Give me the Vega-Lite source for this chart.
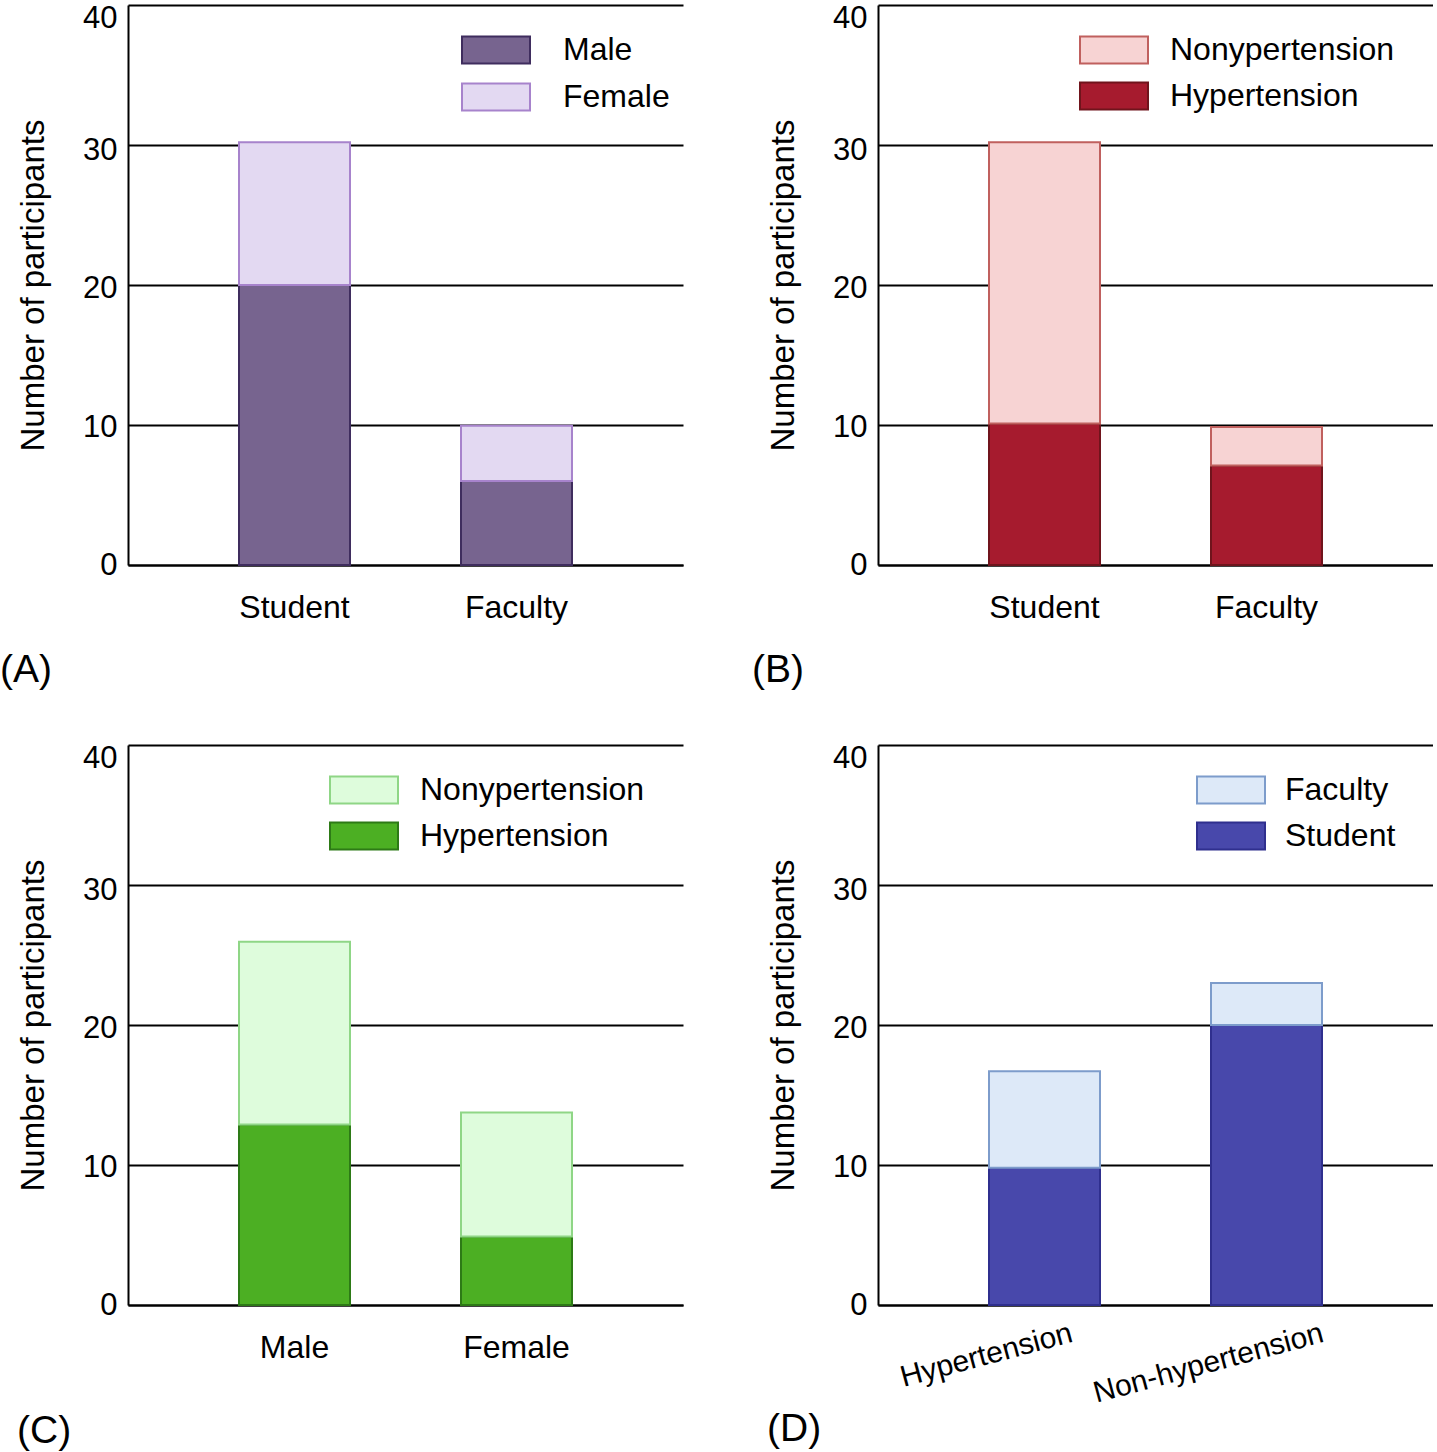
{
  "$schema": "https://vega.github.io/schema/vega-lite/v6.json",
  "autosize": {"type": "pad"},
  "padding": {"left": 0, "top": 2, "right": 0, "bottom": 0},
  "background": "white",
  "columns": 2,
  "bounds": "flush",
  "spacing": {"row": 180, "column": 195},
  "resolve": {"scale": {"fill": "independent", "stroke": "independent"}, "legend": {"fill": "independent", "stroke": "independent"}},
  "config": {
    "font": "Liberation Sans",
    "view": {"stroke": null},
    "axis": {"labelColor": "black", "titleColor": "black", "domainColor": "black", "domainWidth": 2, "ticks": false, "titleFontWeight": "normal", "labelFont": "Liberation Sans", "titleFont": "Liberation Sans", "labelLimit": 500},
    "legend": {"labelFontSize": 32, "labelColor": "black", "labelFont": "Liberation Sans", "labelLimit": 500, "symbolType": "M-2,-0.8L2,-0.8L2,0.8L-2,0.8Z", "symbolSize": 1156, "symbolStrokeWidth": 2, "symbolOpacity": 1, "padding": 0},
    "title": {"fontSize": 39, "fontWeight": "normal", "color": "black", "anchor": "start", "frame": "group", "orient": "bottom", "font": "Liberation Sans"},
    "bar": {"strokeWidth": 2}
  },
  "concat": [
    {
      "width": 555, "height": 560,
      "title": {"text": "(A)", "dx": -128, "offset": 28},
      "data": {"values": [
        {"group": "Student", "sex": "Male", "count": 20},
        {"group": "Student", "sex": "Female", "count": 10.2},
        {"group": "Faculty", "sex": "Male", "count": 6},
        {"group": "Faculty", "sex": "Female", "count": 3.95}
      ]},
      "mark": {"type": "bar"},
      "encoding": {
        "x": {"field": "group", "type": "nominal", "sort": ["Student", "Faculty"], "scale": {"paddingInner": 0.5, "paddingOuter": 0.5},
              "axis": {"title": null, "labelAngle": 0, "labelFontSize": 32, "labelPadding": 27, "grid": false}},
        "y": {"field": "count", "type": "quantitative", "stack": "zero", "scale": {"domain": [0, 40]},
              "axis": {"values": [0, 10, 20, 30, 40], "title": "Number of participants", "titleFontSize": 33, "titlePadding": 32, "labelFontSize": 31, "labelPadding": 11, "grid": true, "gridColor": "black", "gridWidth": 2,
                       "labelBaseline": {"condition": {"test": "datum.value === 40", "value": "top"}, "value": "middle"},
                       "labelOffset": {"condition": [{"test": "datum.value === 40", "value": -2}, {"test": "datum.value === 30", "value": 5}, {"test": "datum.value === 20", "value": 3}, {"test": "datum.value === 10", "value": 2}], "value": 0}}},
        "fill": {"field": "sex", "type": "nominal", "scale": {"domain": ["Male", "Female"], "range": ["#77648f", "#e3d9f2"]},
                 "legend": {"title": null, "orient": "none", "legendX": 350, "legendY": 27, "labelOffset": 49, "rowPadding": 11}},
        "stroke": {"field": "sex", "type": "nominal", "scale": {"domain": ["Male", "Female"], "range": ["#3f2d5e", "#a783cc"]},
                 "legend": {"title": null, "orient": "none", "legendX": 350, "legendY": 27, "labelOffset": 49, "rowPadding": 11}},
        "order": {"field": "sex", "sort": "descending"}
      }
    },
    {
      "width": 555, "height": 560,
      "title": {"text": "(B)", "dx": -126, "offset": 28},
      "data": {"values": [
        {"group": "Student", "status": "Hypertension", "count": 10.1},
        {"group": "Student", "status": "Nonypertension", "count": 20.1},
        {"group": "Faculty", "status": "Hypertension", "count": 7.1},
        {"group": "Faculty", "status": "Nonypertension", "count": 2.75}
      ]},
      "mark": {"type": "bar"},
      "encoding": {
        "x": {"field": "group", "type": "nominal", "sort": ["Student", "Faculty"], "scale": {"paddingInner": 0.5, "paddingOuter": 0.5},
              "axis": {"title": null, "labelAngle": 0, "labelFontSize": 32, "labelPadding": 27, "grid": false}},
        "y": {"field": "count", "type": "quantitative", "stack": "zero", "scale": {"domain": [0, 40]},
              "axis": {"values": [0, 10, 20, 30, 40], "title": "Number of participants", "titleFontSize": 33, "titlePadding": 32, "labelFontSize": 31, "labelPadding": 11, "grid": true, "gridColor": "black", "gridWidth": 2,
                       "labelBaseline": {"condition": {"test": "datum.value === 40", "value": "top"}, "value": "middle"},
                       "labelOffset": {"condition": [{"test": "datum.value === 40", "value": -2}, {"test": "datum.value === 30", "value": 5}, {"test": "datum.value === 20", "value": 3}, {"test": "datum.value === 10", "value": 2}], "value": 0}}},
        "fill": {"field": "status", "type": "nominal", "scale": {"domain": ["Nonypertension", "Hypertension"], "range": ["#f7d3d3", "#a61b2e"]},
                 "legend": {"title": null, "orient": "none", "legendX": 218, "legendY": 27, "labelOffset": 38, "rowPadding": 10}},
        "stroke": {"field": "status", "type": "nominal", "scale": {"domain": ["Nonypertension", "Hypertension"], "range": ["#c0605e", "#70141c"]},
                 "legend": {"title": null, "orient": "none", "legendX": 218, "legendY": 27, "labelOffset": 38, "rowPadding": 10}},
        "order": {"field": "status", "sort": "ascending"}
      }
    },
    {
      "width": 555, "height": 560,
      "title": {"text": "(C)", "dx": -111, "offset": 49},
      "data": {"values": [
        {"group": "Male", "status": "Hypertension", "count": 12.9},
        {"group": "Male", "status": "Nonypertension", "count": 13.05},
        {"group": "Female", "status": "Hypertension", "count": 4.9},
        {"group": "Female", "status": "Nonypertension", "count": 8.85}
      ]},
      "mark": {"type": "bar"},
      "encoding": {
        "x": {"field": "group", "type": "nominal", "sort": ["Male", "Female"], "scale": {"paddingInner": 0.5, "paddingOuter": 0.5},
              "axis": {"title": null, "labelAngle": 0, "labelFontSize": 32, "labelPadding": 27, "grid": false}},
        "y": {"field": "count", "type": "quantitative", "stack": "zero", "scale": {"domain": [0, 40]},
              "axis": {"values": [0, 10, 20, 30, 40], "title": "Number of participants", "titleFontSize": 33, "titlePadding": 32, "labelFontSize": 31, "labelPadding": 11, "grid": true, "gridColor": "black", "gridWidth": 2,
                       "labelBaseline": {"condition": {"test": "datum.value === 40", "value": "top"}, "value": "middle"},
                       "labelOffset": {"condition": [{"test": "datum.value === 40", "value": -2}, {"test": "datum.value === 30", "value": 5}, {"test": "datum.value === 20", "value": 3}, {"test": "datum.value === 10", "value": 2}], "value": 0}}},
        "fill": {"field": "status", "type": "nominal", "scale": {"domain": ["Nonypertension", "Hypertension"], "range": ["#defcdc", "#4caf23"]},
                 "legend": {"title": null, "orient": "none", "legendX": 218, "legendY": 27, "labelOffset": 38, "rowPadding": 10}},
        "stroke": {"field": "status", "type": "nominal", "scale": {"domain": ["Nonypertension", "Hypertension"], "range": ["#8fd686", "#2d7a16"]},
                 "legend": {"title": null, "orient": "none", "legendX": 218, "legendY": 27, "labelOffset": 38, "rowPadding": 10}},
        "order": {"field": "status", "sort": "ascending"}
      }
    },
    {
      "width": 555, "height": 560,
      "title": {"text": "(D)", "dx": -111, "offset": 2},
      "data": {"values": [
        {"group": "Hypertension", "role": "Student", "count": 9.8},
        {"group": "Hypertension", "role": "Faculty", "count": 6.9},
        {"group": "Non-hypertension", "role": "Student", "count": 20},
        {"group": "Non-hypertension", "role": "Faculty", "count": 3}
      ]},
      "mark": {"type": "bar"},
      "encoding": {
        "x": {"field": "group", "type": "nominal", "sort": ["Hypertension", "Non-hypertension"], "scale": {"paddingInner": 0.5, "paddingOuter": 0.5},
              "axis": {"title": null, "labelAngle": -15, "labelAlign": "center", "labelBaseline": "middle", "labelFontSize": 30,
                       "labelPadding": {"condition": {"test": "datum.value === 'Non-hypertension'", "value": 58}, "value": 50},
                       "labelOffset": -58, "grid": false}},
        "y": {"field": "count", "type": "quantitative", "stack": "zero", "scale": {"domain": [0, 40]},
              "axis": {"values": [0, 10, 20, 30, 40], "title": "Number of participants", "titleFontSize": 33, "titlePadding": 32, "labelFontSize": 31, "labelPadding": 11, "grid": true, "gridColor": "black", "gridWidth": 2,
                       "labelBaseline": {"condition": {"test": "datum.value === 40", "value": "top"}, "value": "middle"},
                       "labelOffset": {"condition": [{"test": "datum.value === 40", "value": -2}, {"test": "datum.value === 30", "value": 5}, {"test": "datum.value === 20", "value": 3}, {"test": "datum.value === 10", "value": 2}], "value": 0}}},
        "fill": {"field": "role", "type": "nominal", "scale": {"domain": ["Faculty", "Student"], "range": ["#dde9f8", "#4848ab"]},
                 "legend": {"title": null, "orient": "none", "legendX": 335, "legendY": 27, "labelOffset": 36, "rowPadding": 10}},
        "stroke": {"field": "role", "type": "nominal", "scale": {"domain": ["Faculty", "Student"], "range": ["#7d9ccb", "#2f2f8e"]},
                 "legend": {"title": null, "orient": "none", "legendX": 335, "legendY": 27, "labelOffset": 36, "rowPadding": 10}},
        "order": {"field": "role", "sort": "descending"}
      }
    }
  ]
}
